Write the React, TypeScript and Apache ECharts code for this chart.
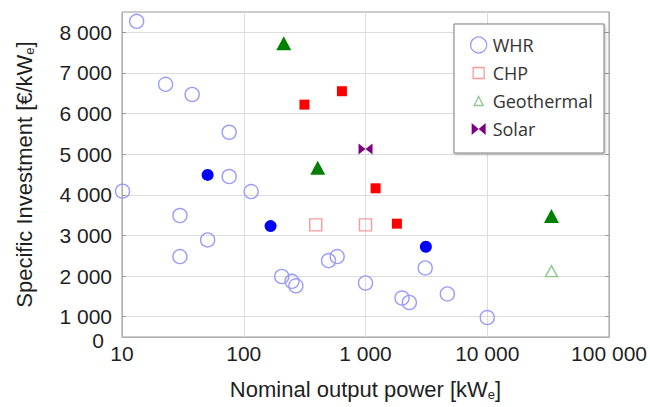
import React, { useEffect, useRef } from 'react';
import * as echarts from 'echarts';

// Axis ticks
const xTickValues = [10, 100, 1000, 10000, 100000];
const yTickValues = [1000, 2000, 3000, 4000, 5000, 6000, 7000, 8000];

// [nominal output power kWe, specific investment €/kWe]
const whrOpen: [number, number][] = [
  [13.2, 8270], [22.8, 6720], [37.7, 6470], [75.9, 5540], [10.1, 4090],
  [75.9, 4450], [115, 4080], [29.9, 3490], [29.9, 2480], [50.5, 2890],
  [205, 1990], [249, 1870], [268, 1760], [497, 2380], [585, 2480],
  [1000, 1830], [1995, 1460], [2290, 1350], [3090, 2200], [4700, 1560],
  [10000, 980],
];
const whrFilled: [number, number][] = [[50.5, 4490], [166, 3230], [3130, 2720]];
const chpOpen: [number, number][] = [[390, 3260], [1000, 3260]];
const chpFilled: [number, number][] = [[315, 6220], [640, 6550], [1210, 4160], [1810, 3290]];
const geoOpen: [number, number][] = [[33650, 2120]];
const geoFilled: [number, number][] = [[213, 7730], [405, 4665], [33650, 3480]];
const solar: [number, number][] = [[1000, 5130]];

const legendNames = ['WHR', 'CHP', 'Geothermal', 'Solar'];

const AXIS_FONT = '"Liberation Sans", Arial, sans-serif';
const TEXT_COLOR = '#1f1f1f';
const BOWTIE = 'path://M0,0L0,10L10,5ZM20,0L20,10L10,5Z';

const fmt = (v: number) => String(Math.round(v)).replace(/\B(?=(\d{3})+(?!\d))/g, ' ');

const titleRich = {
  t: { fontSize: 22, fontFamily: AXIS_FONT, color: TEXT_COLOR, lineHeight: 24 },
  s: { fontSize: 13, fontFamily: AXIS_FONT, color: TEXT_COLOR, lineHeight: 13, verticalAlign: 'bottom' },
};

export default function App() {
  const ref = useRef<HTMLDivElement>(null);

  useEffect(() => {
    if (!ref.current) return;
    const chart = echarts.init(ref.current, undefined, { renderer: 'svg' });
    const hollow = (c: string) => ({ color: 'rgba(0,0,0,0)', borderColor: c, borderWidth: 1.4, opacity: 1 });
    const solid = (c: string) => ({ color: c, opacity: 1 });

    chart.setOption({
      animation: false,
      backgroundColor: '#fff',
      grid: {
        left: 122, right: 37, top: 12, bottom: 70,
        show: true, borderColor: '#999', borderWidth: 1, backgroundColor: 'transparent',
      },
      xAxis: {
        type: 'log',
        logBase: 10,
        min: xTickValues[0],
        max: xTickValues[xTickValues.length - 1],
        axisLine: { show: true, lineStyle: { color: '#b0b0b0' } },
        axisTick: { show: false },
        axisLabel: { formatter: fmt, margin: 6, fontSize: 21, fontFamily: AXIS_FONT, color: TEXT_COLOR },
        splitLine: { show: true, lineStyle: { color: '#dcdcdc' } },
        name: '{t|Nominal output power [kW}{s|e}{t|]}',
        nameLocation: 'middle',
        nameGap: 40,
        nameTextStyle: { rich: titleRich },
      },
      yAxis: [
        {
          type: 'value',
          min: 500,
          max: 8500,
          interval: 1000,
          position: 'left',
          axisLine: { show: true, lineStyle: { color: '#b0b0b0' } },
          axisTick: { show: true, inside: true, length: 4, customValues: yTickValues, lineStyle: { color: '#999' } },
          axisLabel: {
            customValues: yTickValues, formatter: fmt, margin: 10,
            fontSize: 21, fontFamily: AXIS_FONT, color: TEXT_COLOR,
          },
          splitLine: { show: true, lineStyle: { color: '#dcdcdc' } },
          name: '{t|Specific Investment [€/kW}{s|e}{t|]}',
          nameLocation: 'middle',
          nameGap: 86,
          nameTextStyle: { rich: titleRich },
        },
        {
          type: 'value',
          min: 500,
          max: 8500,
          interval: 1000,
          position: 'right',
          axisLine: { show: true, lineStyle: { color: '#b0b0b0' } },
          axisTick: { show: true, inside: true, length: 4, customValues: yTickValues, lineStyle: { color: '#999' } },
          axisLabel: { show: false },
          splitLine: { show: false },
        },
      ],
      legend: {
        orient: 'vertical',
        left: 470,
        top: 36,
        padding: 0,
        itemGap: 10,
        itemWidth: 18,
        itemHeight: 16,
        selectedMode: false,
        itemStyle: { borderWidth: 1.3 },
        textStyle: { fontFamily: '"Open Sans", sans-serif', fontSize: 18, color: '#333' },
        data: [
          { name: legendNames[0], icon: 'circle' },
          { name: legendNames[1], icon: 'path://M0,0M16,16M2.5,2.5h11v11h-11Z' },
          { name: legendNames[2], icon: 'path://M0,0M16,16M8,3.5L12.5,12.5L3.5,12.5Z' },
          { name: legendNames[3], icon: 'path://M0,0M16,16M1,2L1,14L8,8ZM15,2L15,14L8,8Z' },
        ],
      },
      graphic: [
        {
          type: 'rect',
          z: 3,
          shape: { x: 454, y: 24, width: 150, height: 129 },
          style: {
            fill: '#fff', stroke: '#7f7f7f', lineWidth: 1,
            shadowBlur: 3, shadowOffsetX: 1, shadowOffsetY: 1, shadowColor: 'rgba(0,0,0,0.25)',
          },
        },
        {
          type: 'text',
          x: 98,
          y: 340,
          style: {
            text: '0', fontSize: 21, fontFamily: AXIS_FONT, fill: TEXT_COLOR,
            align: 'center', verticalAlign: 'middle',
          },
        },
      ],
      series: [
        { name: 'WHR', type: 'scatter', data: whrOpen, symbol: 'circle', symbolSize: 14, itemStyle: hollow('#9a9aff') },
        { name: 'CHP', type: 'scatter', data: chpOpen, symbol: 'rect', symbolSize: 12, itemStyle: hollow('#ff9999') },
        { name: 'Geothermal', type: 'scatter', data: geoOpen, symbol: 'triangle', symbolSize: [12, 11], itemStyle: hollow('#8fc88f') },
        { name: 'Solar', type: 'scatter', data: solar, symbol: BOWTIE, symbolSize: [14, 11], itemStyle: solid('#7f007f') },
        { name: 'WHR filled', type: 'scatter', data: whrFilled, symbol: 'circle', symbolSize: 12, itemStyle: solid('#0000ff') },
        { name: 'CHP filled', type: 'scatter', data: chpFilled, symbol: 'rect', symbolSize: 10, itemStyle: solid('#ff0000') },
        { name: 'Geothermal filled', type: 'scatter', data: geoFilled, symbol: 'triangle', symbolSize: [15, 14], itemStyle: solid('#008000') },
      ],
    });

    return () => chart.dispose();
  }, []);

  return <div ref={ref} style={{ position: 'fixed', left: 0, top: 0, width: 650, height: 407 }} />;
}
